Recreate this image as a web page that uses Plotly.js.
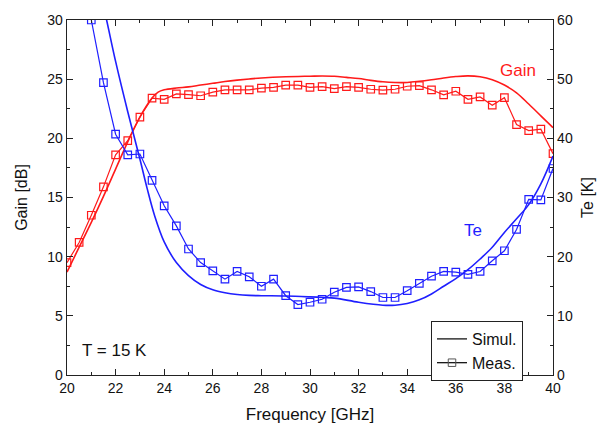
<!DOCTYPE html>
<html>
<head>
<meta charset="utf-8">
<script src="https://cdn.plot.ly/plotly-3.0.1.min.js"></script>
<style>html,body{margin:0;padding:0;background:#fff;}#chart{width:612px;height:425px;}</style>
</head>
<body>
<div id="chart"></div>
<script>
// Measured gain (dB)
const freqGainMeas = [20,20.5,21,21.5,22,22.5,23,23.5,24,24.5,25,25.5,26,26.5,27,27.5,28,28.5,29,29.5,30,30.5,31,31.5,32,32.5,33,33.5,34,34.5,35,35.5,36,36.5,37,37.5,38,38.5,39,39.5,40];
const gainMeas = [9.5,11.2,13.5,15.9,18.6,19.8,21.8,23.4,23.3,23.75,23.7,23.6,23.9,24.1,24.1,24.1,24.25,24.3,24.5,24.5,24.3,24.37,24.2,24.37,24.3,24.15,24.07,24.15,24.4,24.45,24.1,23.67,23.98,23.3,23.5,22.8,23.44,21.16,20.65,20.77,18.7];
// Simulated gain (dB)
const freqGainSim = [20,20.5,21,21.5,22,22.5,23,23.5,23.75,24,24.5,25,25.5,26,26.5,27,27.5,28,29,30,30.5,31,31.5,32,32.5,33,33.5,34,34.5,35,35.5,36,36.5,37,37.5,38,38.5,39,39.5,40];
const gainSim = [8.7,10.8,12.9,15.1,17.4,19.7,21.8,23.4,23.9,24.1,24.25,24.35,24.5,24.65,24.8,24.92,25.02,25.1,25.2,25.25,25.27,25.25,25.15,25.05,24.9,24.78,24.72,24.72,24.82,24.95,25.1,25.22,25.28,25.2,24.95,24.5,23.85,22.9,21.9,20.9];
// Measured noise temperature Te (K)
const freqTeMeas = [21,21.5,22,22.5,23,23.5,24,24.5,25,25.5,26,26.5,27,27.5,28,28.5,29,29.5,30,30.5,31,31.5,32,32.5,33,33.5,34,34.5,35,35.5,36,36.5,37,37.5,38,38.5,39,39.5,40];
const teMeas = [60,49.4,40.7,37.2,37.35,32.9,28.6,25.2,21.3,19.0,17.6,16.2,17.5,16.6,15.0,16.2,13.4,11.9,12.3,12.8,14.0,14.8,14.9,14.1,13.1,13.1,14.25,15.5,16.7,17.5,17.4,17.0,17.5,19.3,21.0,24.6,29.7,29.6,34.9];
// Simulated noise temperature Te (K)
const freqTeSim = [21.3,21.63,22,22.5,23,23.3,23.6,24,24.5,25,25.5,26,26.5,27,27.5,28,29,30,31,32,33,33.5,34,34.5,35,35.5,36,36.5,37,37.5,38,38.5,39,39.5,40];
const teSim = [66,60,53,44.5,36.5,31.5,27,22.5,19.0,16.8,15.3,14.4,13.9,13.6,13.45,13.4,13.35,13.2,13.0,12.3,11.8,11.8,12.1,12.7,13.7,15.0,16.3,17.8,19.6,21.6,24.1,26.4,28.8,32.3,37.0];

const legendNames = ["Simul.", "Meas."];
const xTicks = [20,22,24,26,28,30,32,34,36,38,40];

const RED = '#ff1a1a', BLUE = '#1f1fff';
const FONT = 'Liberation Sans, Arial, sans-serif';
const AX = '#222';

const traces = [
  {x: freqGainSim, y: gainSim, mode: 'lines', line: {color: RED, width: 1.6, shape: 'spline'}, showlegend: false, yaxis: 'y'},
  {x: freqGainMeas, y: gainMeas, mode: 'lines+markers', line: {color: RED, width: 1.2},
   marker: {symbol: 'square-open', size: 7.5, color: RED, line: {width: 1.2, color: '#ff5555'}}, showlegend: false, yaxis: 'y'},
  {x: freqTeSim, y: teSim, mode: 'lines', line: {color: BLUE, width: 1.6, shape: 'spline'}, showlegend: false, yaxis: 'y2'},
  {x: freqTeMeas, y: teMeas, mode: 'lines+markers', line: {color: BLUE, width: 1.2},
   marker: {symbol: 'square-open', size: 7.5, color: BLUE, line: {width: 1.2, color: '#5555ff'}}, showlegend: false, yaxis: 'y2'},
  {x: [null], y: [null], mode: 'lines', name: legendNames[0], line: {color: '#000', width: 1.2}},
  {x: [null], y: [null], mode: 'lines+markers', name: legendNames[1], line: {color: '#000', width: 1.2},
   marker: {symbol: 'square-open', size: 7.5, color: '#555'}}
];

const layout = {
  width: 612, height: 425,
  margin: {l: 67, r: 59, t: 20, b: 50},
  paper_bgcolor: '#fff', plot_bgcolor: '#fff',
  font: {family: FONT, size: 14, color: '#111'},
  xaxis: {
    range: [20, 40], tickvals: xTicks, ticks: 'inside', ticklen: 6, tickcolor: AX,
    showline: true, linecolor: AX, linewidth: 1.3, mirror: 'ticks', showgrid: false, zeroline: false,
    minor: {dtick: 1, ticks: 'inside', ticklen: 3, tickcolor: AX},
    title: {text: 'Frequency [GHz]', font: {size: 17, color: '#111'}, standoff: 13},
    tickfont: {size: 14}
  },
  yaxis: {
    range: [0, 30], dtick: 5, ticks: 'inside', ticklen: 6, tickcolor: AX,
    showline: true, linecolor: AX, linewidth: 1.3, showgrid: false, zeroline: false,
    minor: {dtick: 2.5, ticks: 'inside', ticklen: 3, tickcolor: AX},
    title: {text: 'Gain [dB]', font: {size: 16, color: '#111'}, standoff: 15},
    tickfont: {size: 14}
  },
  yaxis2: {
    range: [0, 60], dtick: 10, ticks: 'inside', ticklen: 6, tickcolor: AX,
    overlaying: 'y', side: 'right',
    showline: true, linecolor: AX, linewidth: 1.3, showgrid: false, zeroline: false,
    minor: {dtick: 5, ticks: 'inside', ticklen: 3, tickcolor: AX},
    title: {text: 'Te [K]', font: {size: 16, color: '#111'}, standoff: 10},
    tickfont: {size: 14}
  },
  legend: {
    x: (431-67)/486, y: (375-321)/355, xanchor: 'left', yanchor: 'top',
    bgcolor: '#fff', bordercolor: AX, borderwidth: 1,
    font: {size: 16, color: '#111'}, tracegroupgap: 0
  },
  annotations: [
    {xref: 'paper', yref: 'paper', x: (517.5-67)/486, y: (375-70.5)/355, xanchor: 'center', yanchor: 'middle',
     text: 'Gain', showarrow: false, font: {size: 17, color: RED}},
    {xref: 'paper', yref: 'paper', x: (473.3-67)/486, y: (375-230)/355, xanchor: 'center', yanchor: 'middle',
     text: 'Te', showarrow: false, font: {size: 17, color: BLUE}},
    {xref: 'paper', yref: 'paper', x: (80-67)/486, y: (375-350)/355, xanchor: 'left', yanchor: 'middle',
     text: 'T = 15 K', showarrow: false, font: {size: 17, color: '#111'}}
  ]
};

Plotly.newPlot('chart', traces, layout, {displayModeBar: false, staticPlot: true});
</script>
</body>
</html>
